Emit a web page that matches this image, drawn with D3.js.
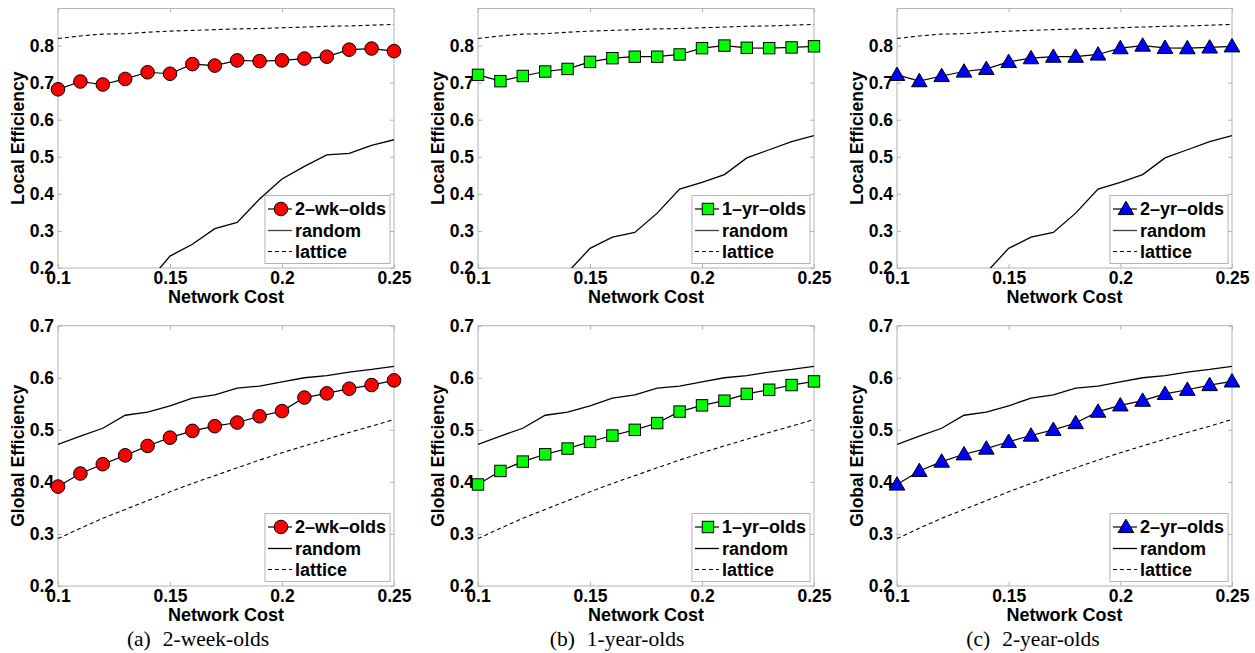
<!DOCTYPE html>
<html><head><meta charset="utf-8">
<script src="https://cdn.jsdelivr.net/npm/d3@7"></script>
<style>
html,body{margin:0;padding:0;background:#fff;}
svg{display:block;}
</style></head>
<body>
<svg id="chart" width="1255" height="653"></svg>
<script>
// ---- data ----
const cost = [0.10,0.11,0.12,0.13,0.14,0.15,0.16,0.17,0.18,0.19,0.20,0.21,0.22,0.23,0.24,0.25];
const xTicks = [0.1,0.15,0.2,0.25];
const xTickLabels = ["0.1","0.15","0.2","0.25"];
const localTicks = [0.2,0.3,0.4,0.5,0.6,0.7,0.8];
const globalTicks = [0.2,0.3,0.4,0.5,0.6,0.7];

const local2wk = [0.682,0.703,0.695,0.710,0.728,0.724,0.750,0.746,0.760,0.758,0.760,0.765,0.770,0.789,0.792,0.785];
const local1yr = [0.721,0.704,0.718,0.730,0.737,0.756,0.766,0.770,0.770,0.776,0.793,0.800,0.794,0.793,0.795,0.798];
const local2yr = [0.721,0.704,0.718,0.730,0.737,0.756,0.766,0.770,0.770,0.776,0.793,0.800,0.794,0.793,0.795,0.798];
const localRandom2wk = [0.05,0.08,0.11,0.14,0.161,0.232,0.264,0.306,0.323,0.386,0.440,0.474,0.505,0.509,0.531,0.546];
const localRandom1yr = [0.06,0.09,0.12,0.15,0.188,0.253,0.283,0.296,0.348,0.413,0.431,0.452,0.497,0.519,0.541,0.557];
const localRandom2yr = [0.06,0.09,0.12,0.15,0.188,0.253,0.283,0.296,0.348,0.413,0.431,0.452,0.497,0.519,0.541,0.557];
const localLattice = [0.819,0.826,0.831,0.832,0.836,0.839,0.841,0.843,0.845,0.846,0.848,0.850,0.852,0.853,0.855,0.857];

const global2wk = [0.391,0.416,0.434,0.451,0.469,0.485,0.498,0.507,0.514,0.526,0.536,0.562,0.570,0.579,0.586,0.595];
const global1yr = [0.395,0.421,0.439,0.453,0.464,0.477,0.489,0.500,0.513,0.535,0.547,0.556,0.569,0.577,0.586,0.593];
const global2yr = [0.395,0.421,0.439,0.453,0.464,0.477,0.489,0.500,0.513,0.535,0.547,0.556,0.569,0.577,0.586,0.593];
const globalRandom = [0.472,0.488,0.503,0.528,0.534,0.546,0.561,0.567,0.580,0.584,0.592,0.600,0.604,0.611,0.616,0.622];
const globalLattice = [0.291,0.311,0.330,0.347,0.364,0.381,0.397,0.412,0.427,0.442,0.456,0.469,0.482,0.495,0.507,0.520];

const groupNames = ["2\u2013wk\u2013olds","1\u2013yr\u2013olds","2\u2013yr\u2013olds"];
const captionTags = ["(a)","(b)","(c)"];
const captionTexts = ["2-week-olds","1-year-olds","2-year-olds"];
const markerKinds = ["circle","square","triangle"];
const markerColors = ["#ff0000","#00ff00","#0000ff"];

// ---- layout ----
const svg = d3.select("#chart");
const colLeft = [58, 478, 897];
const colRight = [394, 814, 1232];
const rows = [
  {top: 8.5, bottom: 268, domain: [0.2, 0.9], ticks: localTicks, label: "Local Efficiency",
   groups: [local2wk, local1yr, local2yr], random: [localRandom2wk, localRandom1yr, localRandom2yr],
   lattice: [localLattice, localLattice, localLattice]},
  {top: 325.7, bottom: 586, domain: [0.2, 0.7], ticks: globalTicks, label: "Global Efficiency",
   groups: [global2wk, global1yr, global2yr], random: [globalRandom, globalRandom, globalRandom],
   lattice: [globalLattice, globalLattice, globalLattice]}
];
const FONT = "'Liberation Sans', Arial, Helvetica, sans-serif";
const SERIF = "'Liberation Serif', 'Times New Roman', serif";
const BOX = "#b4b4b4";

function drawMarker(g, kind, color, cx, cy) {
  if (kind === "circle") {
    g.append("circle").attr("cx", cx).attr("cy", cy).attr("r", 6.8)
      .attr("fill", color).attr("stroke", "#000").attr("stroke-width", 1);
  } else if (kind === "square") {
    g.append("rect").attr("x", cx - 5.7).attr("y", cy - 5.7).attr("width", 11.4).attr("height", 11.4)
      .attr("fill", color).attr("stroke", "#000").attr("stroke-width", 1);
  } else {
    g.append("path").attr("d", `M${cx},${cy-7.8}L${cx+7.8},${cy+5.6}L${cx-7.8},${cy+5.6}Z`)
      .attr("fill", color).attr("stroke", "#000").attr("stroke-width", 1);
  }
}

let clipId = 0;
rows.forEach((row, ri) => {
  for (let ci = 0; ci < 3; ci++) {
    const L = colLeft[ci], R = colRight[ci];
    const x = d3.scaleLinear().domain([0.1, 0.25]).range([L, R]);
    const y = d3.scaleLinear().domain(row.domain).range([row.bottom, row.top]);
    const g = svg.append("g");

    const id = "clip" + (clipId++);
    svg.append("clipPath").attr("id", id).append("rect")
      .attr("x", L).attr("y", row.top).attr("width", R - L).attr("height", row.bottom - row.top);

    g.append("rect").attr("x", L).attr("y", row.top).attr("width", R - L).attr("height", row.bottom - row.top)
      .attr("fill", "none").attr("stroke", BOX).attr("stroke-width", 1);

    const ax = g.append("g").attr("transform", `translate(0,${row.bottom})`)
      .call(d3.axisBottom(x).tickValues(xTicks).tickFormat((d, i) => xTickLabels[i]).tickSize(-4).tickPadding(4));
    const axTop = g.append("g").attr("transform", `translate(0,${row.top})`)
      .call(d3.axisTop(x).tickValues(xTicks).tickFormat("").tickSize(-4));
    const ay = g.append("g").attr("transform", `translate(${L},0)`)
      .call(d3.axisLeft(y).tickValues(row.ticks).tickFormat(d3.format(".1f")).tickSize(-4).tickPadding(4));
    const ayR = g.append("g").attr("transform", `translate(${R},0)`)
      .call(d3.axisRight(y).tickValues(row.ticks).tickFormat("").tickSize(-4));
    [ax, axTop, ay, ayR].forEach(a => {
      a.select(".domain").remove();
      a.selectAll(".tick line").attr("stroke", BOX);
      a.selectAll(".tick text").attr("fill", "#000").style("font-family", FONT)
        .style("font-size", "17.5px").style("font-weight", "bold");
    });

    g.append("text").attr("x", (L + R) / 2).attr("y", row.bottom + 35)
      .attr("text-anchor", "middle").style("font-family", FONT).style("font-size", "18px")
      .style("font-weight", "bold").text("Network Cost");
    g.append("text").attr("transform", `translate(${L - 34},${(row.top + row.bottom) / 2}) rotate(-90)`)
      .attr("text-anchor", "middle").style("font-family", FONT).style("font-size", "17.5px")
      .style("font-weight", "bold").text(row.label);

    const plot = g.append("g").attr("clip-path", `url(#${id})`);
    const line = d3.line().x((d, i) => x(cost[i])).y(d => y(d));
    plot.append("path").datum(row.lattice[ci]).attr("d", line).attr("fill", "none")
      .attr("stroke", "#000").attr("stroke-width", 1.1).attr("stroke-dasharray", "4,3");
    plot.append("path").datum(row.random[ci]).attr("d", line).attr("fill", "none")
      .attr("stroke", "#000").attr("stroke-width", 1.3);
    const markG = g.append("g");
    markG.append("path").datum(row.groups[ci]).attr("d", line).attr("fill", "none")
      .attr("stroke", "#000").attr("stroke-width", 1.2);
    row.groups[ci].forEach((v, i) => drawMarker(markG, markerKinds[ci], markerColors[ci], x(cost[i]), y(v)));

    // legend
    const lg = g.append("g");
    const labels = [groupNames[ci], "random", "lattice"];
    const texts = labels.map(t => lg.append("text").style("font-family", FONT).style("font-size", "18px")
      .style("font-weight", "bold").text(t));
    const tw = d3.max(texts, t => t.node().getComputedTextLength());
    const boxW = tw + 34, boxH = 68;
    const bx = R - 4 - boxW, by = row.bottom - 4.5 - boxH;
    lg.insert("rect", "text").attr("x", bx).attr("y", by).attr("width", boxW).attr("height", boxH)
      .attr("fill", "#fff").attr("stroke", BOX).attr("stroke-width", 1);
    const rowY = [by + 13.5, by + 35, by + 56];
    texts.forEach((t, k) => t.attr("x", bx + 30).attr("y", rowY[k]).attr("dy", "0.36em"));
    lg.append("line").attr("x1", bx + 3).attr("x2", bx + 27).attr("y1", rowY[0]).attr("y2", rowY[0])
      .attr("stroke", "#000").attr("stroke-width", 1.2);
    drawMarker(lg, markerKinds[ci], markerColors[ci], bx + 16, rowY[0]);
    lg.append("line").attr("x1", bx + 3).attr("x2", bx + 27).attr("y1", rowY[1]).attr("y2", rowY[1])
      .attr("stroke", "#000").attr("stroke-width", 1.3).attr("opacity", ri === 0 ? 0.75 : 1);
    lg.append("line").attr("x1", bx + 3).attr("x2", bx + 27).attr("y1", rowY[2]).attr("y2", rowY[2])
      .attr("stroke", "#000").attr("stroke-width", 1.1).attr("stroke-dasharray", "4,3");

    // caption
    if (ri === 1) {
      const cap = svg.append("text").attr("x", [198, 617, 1033][ci]).attr("y", 638).attr("dy", "0.35em")
        .attr("text-anchor", "middle").style("font-family", SERIF)
        .style("font-size", "21.5px").attr("fill", "#000");
      cap.append("tspan").text(captionTags[ci]);
      cap.append("tspan").attr("dx", 12).text(captionTexts[ci]);
    }
  }
});
</script>
</body></html>
